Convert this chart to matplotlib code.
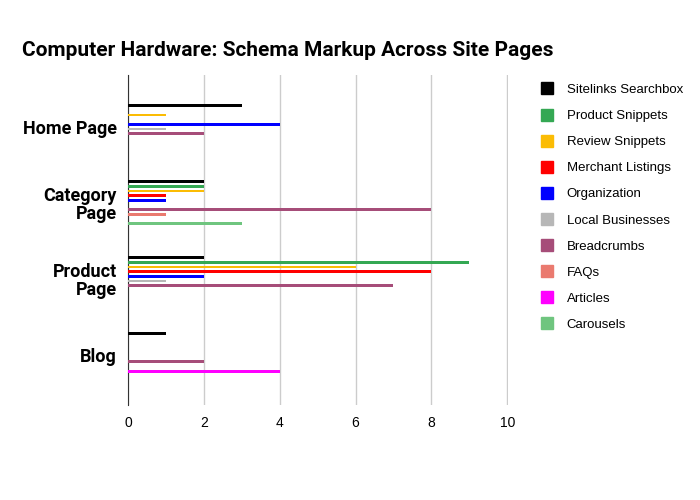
import matplotlib
matplotlib.use("Agg")
import matplotlib.pyplot as plt
import numpy as np
from matplotlib.lines import Line2D

categories = ["Home Page", "Category\nPage", "Product\nPage", "Blog"]
series = ["Sitelinks Searchbox", "Product Snippets", "Review Snippets", "Merchant Listings",
          "Organization", "Local Businesses", "Breadcrumbs", "FAQs", "Articles", "Carousels"]
colors = ["#000000", "#34a853", "#fbbc04", "#ff0000", "#0000ff", "#b7b7b7",
          "#a64d79", "#ea7a6f", "#ff00ff", "#6fc57f"]
values = [
    [3, 2, 2, 1],
    [0, 2, 9, 0],
    [1, 2, 6, 0],
    [0, 1, 8, 0],
    [4, 1, 2, 0],
    [1, 0, 1, 0],
    [2, 8, 7, 2],
    [0, 1, 0, 0],
    [0, 0, 0, 4],
    [0, 3, 0, 0],
]

fig = plt.figure(figsize=(7, 5), dpi=100)
ax = fig.add_axes([128/700, 95/500, 380/700, 330/500])
n = len(series)
slot = 0.0615
y = np.arange(len(categories))
for i, (s, c, v) in enumerate(zip(series, colors, values)):
    off = (i - (n - 1) / 2) * slot
    ax.barh(y + off, v, height=0.035, color=c, zorder=3)
ax.set_ylim(3.66, -0.68)
ax.set_xlim(0, 10.02)
ax.set_xticks([0, 2, 4, 6, 8, 10])
ax.tick_params(axis="x", length=0, labelsize=10, pad=8)
for t in ax.get_xticklabels():
    t.set_fontfamily("Liberation Sans")
ax.set_yticks(y)
ax.set_yticklabels(categories, fontsize=13, fontweight="bold", linespacing=1.0, fontfamily="Roboto")
ax.tick_params(axis="y", length=0, pad=8)
ax.grid(axis="x", color="#cccccc", linewidth=1, zorder=0)
for sp in ["top", "right", "bottom"]:
    ax.spines[sp].set_visible(False)
ax.spines["left"].set_color("#333333")
fig.text(22/700, 1 - 50/500, "Computer Hardware: Schema Markup Across Site Pages",
         fontsize=15, fontweight="bold", va="center", ha="left", fontfamily="Roboto")
handles = [Line2D([], [], marker="s", linestyle="none", markersize=9, color=c) for c in colors]
fig.legend(handles, series, loc="upper left", bbox_to_anchor=(522/700, 1 - 72/500),
           frameon=False, prop={"family": "Liberation Sans", "size": 9.5},
           labelspacing=1.05, handletextpad=0.5)
fig.savefig("out.png", dpi=100)
